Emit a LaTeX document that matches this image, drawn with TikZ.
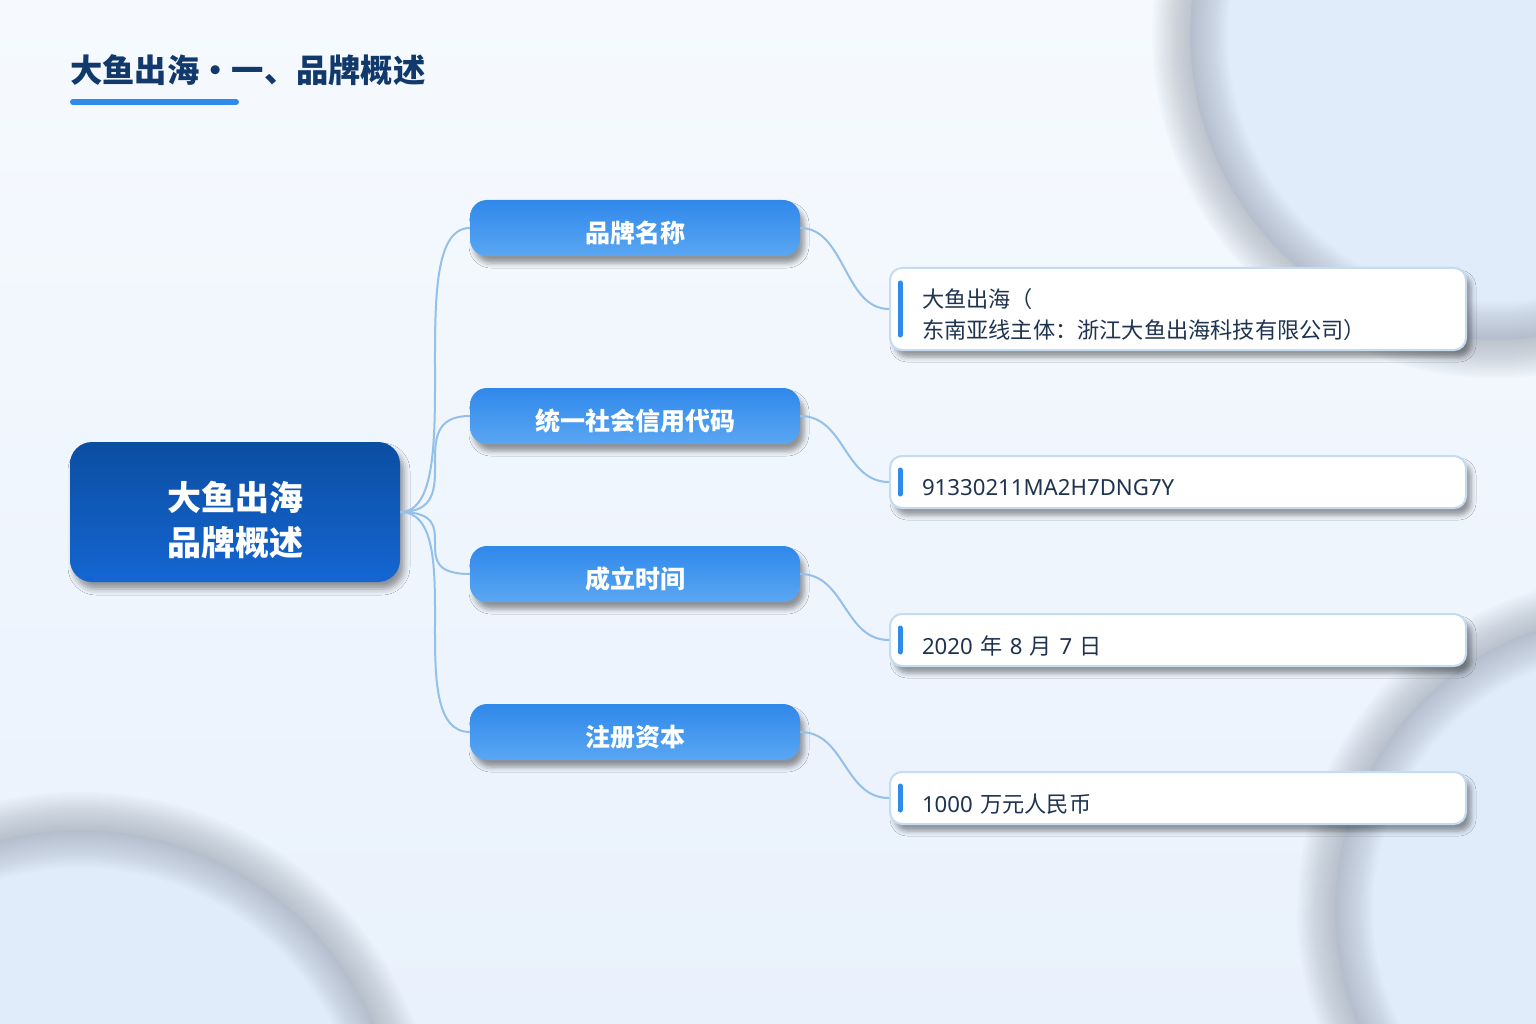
\documentclass[tikz,border=0pt]{standalone}
\usepackage{fontspec}
\setmainfont{Noto Sans CJK SC}
\newfontfamily\latin{Noto Sans}
\usepackage{tikz}
\usetikzlibrary{shadows.blur}
\definecolor{fondhaut}{HTML}{F6FAFE}
\definecolor{fondbas}{HTML}{E9F1FC}
\definecolor{titre}{HTML}{12396B}
\definecolor{trait}{HTML}{2E8BEA}
\definecolor{racinehaut}{HTML}{0B4EA2}
\definecolor{racinebas}{HTML}{1466D2}
\definecolor{branchehaut}{HTML}{2F88EA}
\definecolor{branchebas}{HTML}{5AA7F3}
\definecolor{lienc}{HTML}{94C0EA}
\definecolor{bordfeuille}{HTML}{C3DBF3}
\definecolor{textefeuille}{HTML}{1F3350}
\definecolor{ombre}{HTML}{949DAA}
\definecolor{cercle}{HTML}{E1ECFA}
\newcommand{\abaisse}[2][6pt]{\raisebox{-#1}[\height][\depth]{#2}}

\begin{document}
\begin{tikzpicture}[x=1pt,y=-1pt,
    racine/.style={rounded corners=22pt, minimum width=330pt, minimum height=140pt,
        top color=racinehaut, bottom color=racinebas, text=white,
        font=\fontsize{34}{45}\selectfont\bfseries,
        blur shadow={shadow xshift=4pt, shadow yshift=-7pt, shadow blur radius=6pt}},
    branche/.style={rounded corners=17pt, minimum width=330pt, minimum height=56pt,
        top color=branchehaut, bottom color=branchebas, text=white,
        font=\fontsize{25}{30}\selectfont\bfseries,
        blur shadow={shadow xshift=4pt, shadow yshift=-7pt, shadow blur radius=5pt}},
    feuille/.style={rounded corners=12pt, draw=bordfeuille, line width=2pt, fill=white,
        text width=512pt, inner xsep=32pt, inner ysep=0pt, align=left, text=textefeuille,
        font=\fontsize{22.2}{30}\selectfont,
        blur shadow={shadow xshift=5pt, shadow yshift=-7pt, shadow blur radius=5pt}},
    lien/.style={draw=lienc, line width=2pt},
    repere/.style={draw=trait, line width=5pt, line cap=round}]

    \useasboundingbox (0,0) rectangle (1536,1024);

    % Fond
    \shade[top color=fondhaut, bottom color=fondbas] (0,0) rectangle (1536,1024);
    \begin{scope}
        \clip (0,0) rectangle (1536,1024);
        \fill[cercle] (1495,35) circle (305);
        \fill[cercle] (80,1150) circle (320);
        \fill[cercle] (1630,910) circle (295);
        \foreach \l in {4,8,...,76} {
            \draw[ombre, opacity=0.034, line width=\l pt] (1495,35) circle (305);
            \draw[ombre, opacity=0.034, line width=\l pt] (80,1150) circle (320);
            \draw[ombre, opacity=0.034, line width=\l pt] (1630,910) circle (295);
        }
    \end{scope}

    % Titre
    \node[anchor=west, inner sep=0pt, text=titre, font=\fontsize{32.3}{38}\selectfont\bfseries]
        (titre) at (70,70) {大鱼出海・一、品牌概述};
    \draw[trait, line width=6pt, line cap=round] (73,102) -- (236,102);

    % Racine
    \node[racine] (racine) at (235,512)
        {\abaisse[12pt]{\begin{tabular}{@{}c@{}}大鱼出海\\品牌概述\end{tabular}}};

    % Branches
    \node[branche] (nom) at (635,228) {\abaisse[5pt]{品牌名称}};
    \node[branche] (code) at (635,416) {\abaisse[5pt]{统一社会信用代码}};
    \node[branche] (date) at (635,574) {\abaisse[5pt]{成立时间}};
    \node[branche] (capital) at (635,732) {\abaisse[5pt]{注册资本}};

    % Feuilles
    \node[feuille, minimum height=82pt] (fnom) at (1178,309)
        {\abaisse[8pt]{\begin{tabular}{@{}l@{}}大鱼出海（\\东南亚线主体：浙江大鱼出海科技有限公司）\end{tabular}}};
    \node[feuille, minimum height=52pt] (fcode) at (1178,482) {\abaisse{\latin 91330211MA2H7DNG7Y}};
    \node[feuille, minimum height=52pt] (fdate) at (1178,640)
        {\abaisse{{\latin 2020} 年 {\latin 8} 月 {\latin 7} 日}};
    \node[feuille, minimum height=52pt] (fcapital) at (1178,798) {\abaisse{{\latin 1000} 万元人民币}};

    % Reperes bleus
    \draw[repere] ([xshift=11pt,yshift=26pt]fnom.west) -- ([xshift=11pt,yshift=-26pt]fnom.west);
    \draw[repere] ([xshift=11pt,yshift=12pt]fcode.west) -- ([xshift=11pt,yshift=-12pt]fcode.west);
    \draw[repere] ([xshift=11pt,yshift=12pt]fdate.west) -- ([xshift=11pt,yshift=-12pt]fdate.west);
    \draw[repere] ([xshift=11pt,yshift=12pt]fcapital.west) -- ([xshift=11pt,yshift=-12pt]fcapital.west);

    % Liens racine - branches
    \draw[lien] (racine.east) .. controls +(70,0) and +(-70,0) .. (nom.west);
    \draw[lien] (racine.east) .. controls +(70,0) and +(-70,0) .. (code.west);
    \draw[lien] (racine.east) .. controls +(70,0) and +(-70,0) .. (date.west);
    \draw[lien] (racine.east) .. controls +(70,0) and +(-70,0) .. (capital.west);

    % Liens branches - feuilles
    \draw[lien] (nom.east) .. controls +(45,0) and +(-45,0) .. (fnom.west);
    \draw[lien] (code.east) .. controls +(45,0) and +(-45,0) .. (fcode.west);
    \draw[lien] (date.east) .. controls +(45,0) and +(-45,0) .. (fdate.west);
    \draw[lien] (capital.east) .. controls +(45,0) and +(-45,0) .. (fcapital.west);
\end{tikzpicture}
\end{document}
